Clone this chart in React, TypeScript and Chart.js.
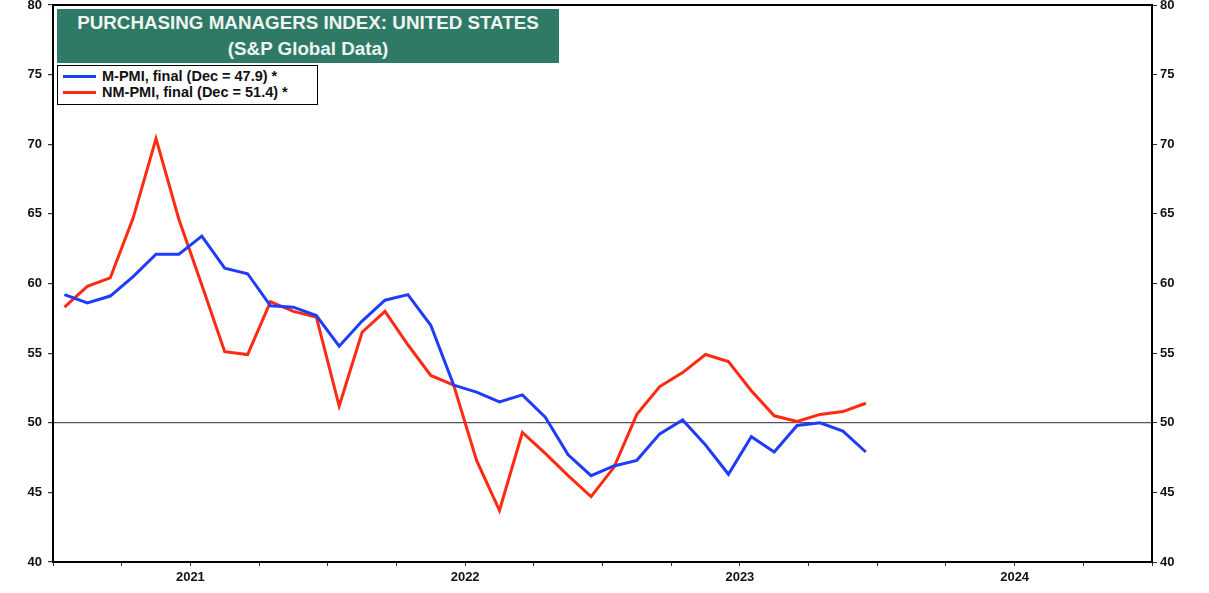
import React, { useEffect, useRef } from "react";
import { Chart, registerables } from "chart.js";

Chart.register(...registerables);

const months: string[] = [];
for (let y = 2021; y <= 2024; y++) {
  for (let m = 1; m <= 12; m++) months.push(`${y}-${String(m).padStart(2, "0")}`);
}
const yearLabels = ["2021", "2022", "2023", "2024"];

const mPmi = [
  59.2, 58.6, 59.1, 60.5, 62.1, 62.1, 63.4, 61.1, 60.7, 58.4, 58.3, 57.7,
  55.5, 57.3, 58.8, 59.2, 57.0, 52.7, 52.2, 51.5, 52.0, 50.4, 47.7, 46.2,
  46.9, 47.3, 49.2, 50.2, 48.4, 46.3, 49.0, 47.9, 49.8, 50.0, 49.4, 47.9,
];
const nmPmi = [
  58.3, 59.8, 60.4, 64.7, 70.4, 64.6, 59.9, 55.1, 54.9, 58.7, 58.0, 57.6,
  51.2, 56.5, 58.0, 55.6, 53.4, 52.7, 47.3, 43.7, 49.3, 47.8, 46.2, 44.7,
  46.8, 50.6, 52.6, 53.6, 54.9, 54.4, 52.3, 50.5, 50.1, 50.6, 50.8, 51.4,
];

const BLUE = "#1f3cf7";
const RED = "#ff2a12";
const FONT = '"Liberation Sans", Arial, sans-serif';

const toPoints = (vals: number[]) => vals.map((v, i) => ({ x: i + 0.5, y: v }));

const framePlugin = {
  id: "frame",
  afterDraw(chart: any) {
    const { ctx, chartArea } = chart;
    ctx.save();
    ctx.strokeStyle = "#000";
    ctx.lineWidth = 2;
    ctx.strokeRect(chartArea.left, chartArea.top, chartArea.right - chartArea.left, chartArea.bottom - chartArea.top);
    ctx.restore();
  },
};

export default function App() {
  const ref = useRef<HTMLCanvasElement>(null);
  useEffect(() => {
    if (!ref.current) return;
    const tickFont = { family: FONT, size: 13, weight: "bold" as const };
    const chart = new Chart(ref.current, {
      type: "line",
      data: {
        datasets: [
          {
            label: "M-PMI, final (Dec = 47.9) *",
            data: toPoints(mPmi),
            borderColor: BLUE,
            borderWidth: 3,
            pointRadius: 0,
            tension: 0,
          },
          {
            label: "NM-PMI, final (Dec = 51.4) *",
            data: toPoints(nmPmi),
            borderColor: RED,
            borderWidth: 3,
            pointRadius: 0,
            tension: 0,
          },
        ],
      },
      options: {
        animation: false,
        responsive: false,
        maintainAspectRatio: false,
        layout: { padding: { top: 5, left: 0, right: 0, bottom: 0 } },
        plugins: { legend: { display: false }, tooltip: { enabled: false }, title: { display: false } },
        scales: {
          x: {
            type: "linear",
            min: 0,
            max: months.length,
            afterFit: (s: any) => {
              s.height = 31;
              s.paddingLeft = 0;
              s.paddingRight = 0;
            },
            afterBuildTicks: (s: any) => {
              const t = [];
              for (let v = 0; v <= months.length; v += 3) t.push({ value: v });
              s.ticks = t;
            },
            ticks: {
              autoSkip: false,
              maxRotation: 0,
              padding: 4,
              color: "#111",
              font: tickFont,
              callback: (v: any) => (v % 12 === 6 ? yearLabels[Math.floor(v / 12)] : ""),
            },
            grid: { drawOnChartArea: false, drawTicks: true, tickLength: 4, tickColor: "#333", lineWidth: 1 },
            border: { display: true, color: "#000", width: 2 },
          },
          y: {
            position: "left",
            min: 40,
            max: 80,
            afterFit: (s: any) => {
              s.width = 53;
              s.paddingTop = 0;
              s.paddingBottom = 0;
            },
            ticks: { stepSize: 5, padding: 6, color: "#111", font: tickFont },
            grid: {
              drawOnChartArea: true,
              tickLength: 5,
              tickColor: "#333",
              color: (c: any) => (c.tick && c.tick.value === 50 ? "#555" : "rgba(0,0,0,0)"),
              lineWidth: 1.2,
            },
            border: { display: true, color: "#000", width: 2 },
          },
          y2: {
            position: "right",
            min: 40,
            max: 80,
            afterFit: (s: any) => {
              s.width = 57;
              s.paddingTop = 0;
              s.paddingBottom = 0;
            },
            ticks: { stepSize: 5, padding: 3, color: "#111", font: tickFont },
            grid: { drawOnChartArea: false, tickLength: 5, tickColor: "#333" },
            border: { display: true, color: "#000", width: 2 },
          },
        },
      },
      plugins: [framePlugin],
    });
    return () => chart.destroy();
  }, []);

  const legendItems = [
    { c: BLUE, t: "M-PMI, final (Dec = 47.9) *" },
    { c: RED, t: "NM-PMI, final (Dec = 51.4) *" },
  ];

  return (
    <div style={{ position: "absolute", left: 0, top: 0, width: 1209, height: 593, background: "#fff", fontFamily: FONT }}>
      <canvas ref={ref} width={1209} height={593} style={{ position: "absolute", left: 0, top: 0, width: 1209, height: 593 }} />
      <div
        style={{
          position: "absolute",
          left: 57,
          top: 9,
          width: 502,
          height: 54,
          background: "#2e7a66",
          color: "#eef4f0",
          fontWeight: "bold",
          fontSize: 18.8,
          textAlign: "center",
          lineHeight: "26px",
          paddingTop: 1,
          boxSizing: "border-box",
          whiteSpace: "nowrap",
        }}
      >
        <div>PURCHASING MANAGERS INDEX: UNITED STATES</div>
        <div>(S&amp;P Global Data)</div>
      </div>
      <div
        style={{
          position: "absolute",
          left: 57,
          top: 65,
          width: 261,
          height: 40,
          border: "1.5px solid #000",
          boxSizing: "border-box",
          background: "#fff",
          fontWeight: "bold",
          fontSize: 14.5,
          color: "#111",
          padding: "2px 0 0 5px",
          whiteSpace: "nowrap",
        }}
      >
        {legendItems.map((e) => (
          <div key={e.t} style={{ display: "flex", alignItems: "center", height: 16 }}>
            <span style={{ display: "inline-block", width: 33, height: 3, background: e.c, marginRight: 6, flex: "none" }} />
            <span>{e.t}</span>
          </div>
        ))}
      </div>
    </div>
  );
}
